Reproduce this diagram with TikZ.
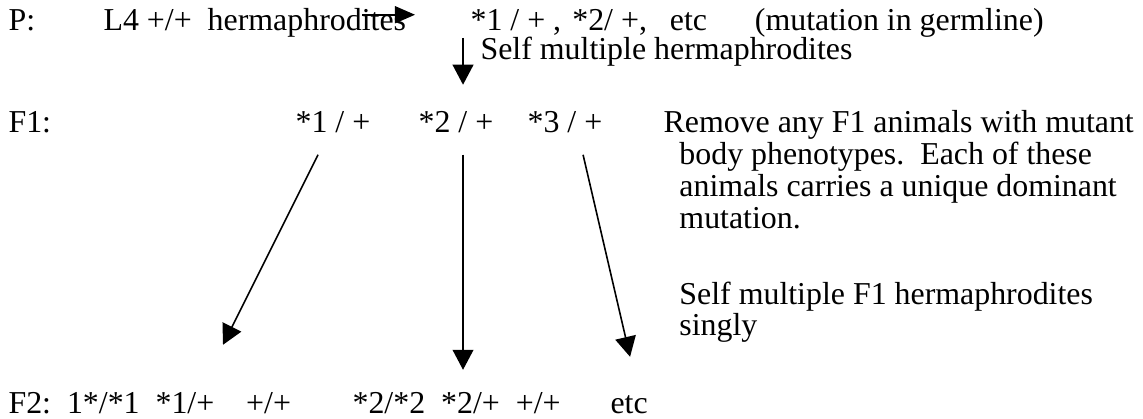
\documentclass[tikz,border=0pt]{standalone}
\usepackage{fontspec}
\setmainfont{Liberation Serif}
\usetikzlibrary{arrows.meta,positioning}

\begin{document}
\begin{tikzpicture}[
    txt/.style={inner sep=0pt, anchor=base west, font=\fontsize{12}{13}\selectfont},
    arrow/.style={-{Triangle[length=0.265cm, width=0.275cm]}, line width=0.6pt},
    sidearrow/.style={-{Triangle[length=0.265cm, width=0.225cm]}, line width=0.6pt}
]
\useasboundingbox (0,0) rectangle (15.12,5.54);

% P generation
\node[txt] (lblp) at (0.106,5.133) {P:};
\node[txt] (lfour) at (1.363,5.133) {L4 +/+\hspace{0.5em}hermaphrodites};
\node[txt] (pgen) at (6.218,5.133) {*1 / +~,\hspace{0.35em}*2/ +,\hspace{0.72em}etc\hspace{1.5em}(mutation in germline)};
\node[txt] (selfp) at (6.350,4.749) {Self multiple hermaphrodites};

% F1 generation
\node[txt] (lblfone) at (0.106,3.784) {F1:};
\node[txt] (fonea) at (3.903,3.784) {*1 / +};
\node[txt] (foneb) at (5.530,3.784) {*2 / +};
\node[txt] (fonec) at (6.972,3.784) {*3 / +};
\node[txt] (note) at (8.771,3.784) {\parbox[t]{6.5cm}{\fontsize{12}{12}\selectfont
    \hangindent=0.21cm \hangafter=1
    Remove any F1 animals with mutant\\
    body phenotypes.\ \ Each of these\\
    animals carries a unique dominant\\
    mutation.\\[16.5pt]
    Self multiple F1 hermaphrodites\\
    singly}};

% F2 generation
\node[txt] (lblftwo) at (0.106,0.07) {F2:\ \ 1*/*1\ \ *1/+\hspace{1em}+/+};
\node[txt] (ftwob) at (4.657,0.07) {*2/*2\ \ *2/+\ \ +/+};
\node[txt] (ftwoc) at (8.070,0.07) {etc};

% arrow ends
\coordinate (pfrom) at (4.789,5.345);
\coordinate (pto) at (5.490,5.345);
\coordinate (sfrom) at (6.125,5.040);
\coordinate (sto) at (6.125,4.419);
\coordinate (afrom) at (4.207,3.493);
\coordinate (ato) at (2.950,0.979);
\coordinate (bfrom) at (6.125,3.493);
\coordinate (bto) at (6.125,0.648);
\coordinate (cfrom) at (7.713,3.493);
\coordinate (cto) at (8.335,0.820);

\draw[sidearrow] (pfrom) -- (pto);
\draw[arrow] (sfrom) -- (sto);
\draw[arrow] (afrom) -- (ato);
\draw[arrow] (bfrom) -- (bto);
\draw[arrow] (cfrom) -- (cto);

\end{tikzpicture}
\end{document}
